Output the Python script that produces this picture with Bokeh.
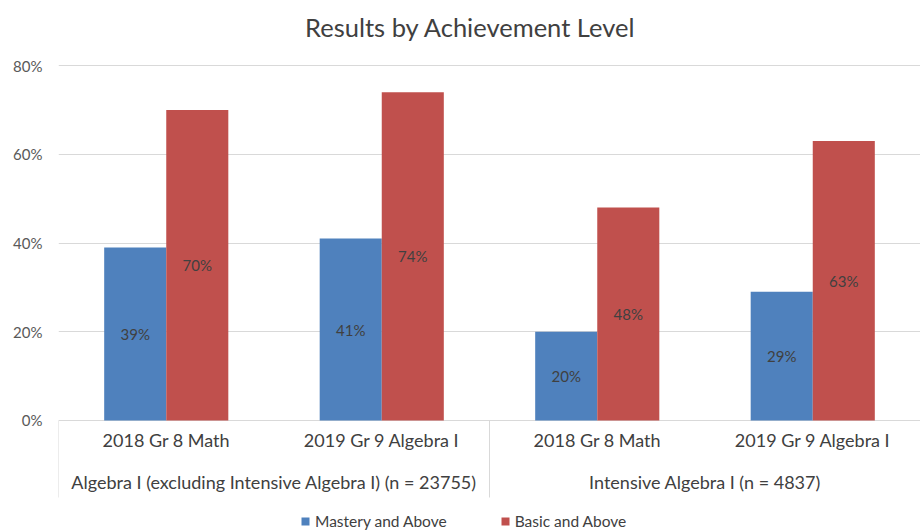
from bokeh.plotting import figure
from bokeh.models import (FactorRange, Range1d, ColumnDataSource, FixedTicker,
                          Legend, LegendItem, NumeralTickFormatter, Label)
from bokeh.transform import dodge
from bokeh.core.properties import value
from bokeh.embed import file_html
from bokeh.resources import INLINE

# ---- data ----
groups = ["Algebra I (excluding Intensive Algebra I) (n = 23755)",
          "Intensive Algebra I (n = 4837)"]
subcats = ["2018 Gr 8 Math", "2019 Gr 9 Algebra I"]
series = ["Mastery and Above", "Basic and Above"]
mastery = [0.39, 0.41, 0.20, 0.29]
basic = [0.70, 0.74, 0.48, 0.63]
y_ticks = [0, 0.2, 0.4, 0.6, 0.8]
title = "Results by Achievement Level"

BLUE = "#4F81BD"
RED = "#C0504D"
FONT = "Lato"
TEXT = "#404040"

factors = [(g, s) for g in groups for s in subcats]

src = ColumnDataSource(dict(
    x=factors,
    mastery=mastery,
    basic=basic,
    m_mid=[v / 2 for v in mastery],
    b_mid=[v / 2 for v in basic],
    m_lab=["%d%%" % round(v * 100) for v in mastery],
    b_lab=["%d%%" % round(v * 100) for v in basic],
))

p = figure(
    width=920, height=530,
    x_range=FactorRange(*factors, factor_padding=0, group_padding=0,
                        subgroup_padding=0, range_padding=0),
    y_range=Range1d(-0.2479, 0.9465),
    x_axis_location=None, title_location=None,
    output_backend="svg", toolbar_location=None,
    min_border_left=58, min_border_right=0, min_border_top=0, min_border_bottom=0,
)
p.outline_line_color = None

# chart title (inside the frame's top band, in screen units)
p.add_layout(Label(x=412, y=504, x_units="screen", y_units="screen", text=title,
                   text_align="center", text_baseline="middle", text_font=FONT,
                   text_font_size="25.5px", text_color=TEXT))

p.yaxis.ticker = FixedTicker(ticks=y_ticks)
p.yaxis.formatter = NumeralTickFormatter(format="0%")
p.yaxis.major_label_text_font = FONT
p.yaxis.major_label_text_font_size = "15px"
p.yaxis.major_label_text_color = "#595959"
p.yaxis.axis_line_color = None
p.yaxis.major_tick_line_color = None
p.yaxis.minor_tick_line_color = None
p.yaxis.major_tick_out = 0
p.yaxis.major_tick_in = 0
p.yaxis.major_label_standoff = 16

p.ygrid.ticker = FixedTicker(ticks=y_ticks)
p.ygrid.grid_line_color = "#D9D9D9"
p.xgrid.grid_line_color = None

bw = 0.288
rb = p.vbar(x=dodge("x", -bw / 2, range=p.x_range), top="mastery", width=bw,
            source=src, fill_color=BLUE, line_color=None)
rr = p.vbar(x=dodge("x", bw / 2, range=p.x_range), top="basic", width=bw,
            source=src, fill_color=RED, line_color=None)

p.text(x=dodge("x", -bw / 2, range=p.x_range), y="m_mid", text="m_lab", source=src,
       text_align="center", text_baseline="middle", text_font=value(FONT),
       text_font_size="15px", text_color=TEXT)
p.text(x=dodge("x", bw / 2, range=p.x_range), y="b_mid", text="b_lab", source=src,
       text_align="center", text_baseline="middle", text_font=value(FONT),
       text_font_size="15px", text_color=TEXT)

# category table labels
sub_src = ColumnDataSource(dict(x=factors, y=[-0.045] * len(factors),
                                t=[f[1] for f in factors]))
p.text(x="x", y="y", text="t", source=sub_src, text_align="center",
       text_baseline="middle", text_font=value(FONT), text_font_size="18px",
       text_color=TEXT)
grp_src = ColumnDataSource(dict(x=groups, y=[-0.1397] * len(groups), t=groups))
p.text(x="x", y="y", text="t", source=grp_src, text_align="center",
       text_baseline="middle", text_font=value(FONT), text_font_size="18px",
       text_color=TEXT)

# separators of the category table
left_src = ColumnDataSource(dict(x=[factors[0]], y0=[0], y1=[-0.1735]))
right_src = ColumnDataSource(dict(x=[factors[1], factors[3]], y0=[0, 0],
                                  y1=[-0.1735, -0.1735]))
p.segment(x0=dodge("x", -0.5, range=p.x_range), x1=dodge("x", -0.5, range=p.x_range),
          y0="y0", y1="y1", source=left_src, line_color="#D9D9D9", line_width=1)
p.segment(x0=dodge("x", 0.5, range=p.x_range), x1=dodge("x", 0.5, range=p.x_range),
          y0="y0", y1="y1", source=right_src, line_color="#D9D9D9", line_width=1)

legend = Legend(items=[LegendItem(label=series[0], renderers=[rb]),
                       LegendItem(label=series[1], renderers=[rr])],
                orientation="horizontal", location=(242, 0),
                border_line_color=None, background_fill_alpha=0,
                label_text_font=FONT, label_text_font_size="15.5px",
                label_text_color=TEXT,
                glyph_width=10, glyph_height=10, label_standoff=5,
                spacing=53, padding=0, margin=0, label_height=14)
p.add_layout(legend)

open("out.html", "w").write(file_html(p, INLINE))
